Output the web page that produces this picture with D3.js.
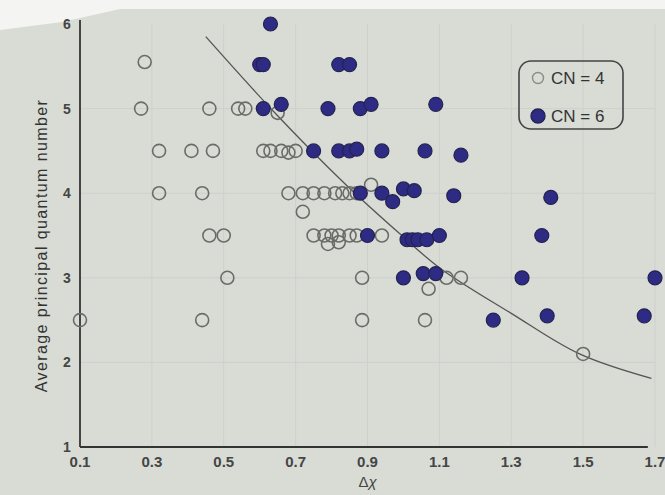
<!DOCTYPE html>
<html>
<head>
<meta charset="utf-8">
<script src="https://d3js.org/d3.v7.min.js"></script>
<style>
    body { margin: 0; background: #d8dcd5; }
    svg { display: block; }
</style>
</head>
<body>
<svg id="chart" width="665" height="495"></svg>
<script>
// tick values
const xTicks = [0.1, 0.3, 0.5, 0.7, 0.9, 1.1, 1.3, 1.5, 1.7];
const yTicks = [1, 2, 3, 4, 5, 6];

// CN = 4 (open circles), [delta chi, average n]
const cn4 = [
    [0.10, 2.5], [0.28, 5.55], [0.27, 5.0], [0.32, 4.5], [0.32, 4.0],
    [0.41, 4.5], [0.44, 4.0], [0.47, 4.5], [0.46, 5.0], [0.46, 3.5],
    [0.50, 3.5], [0.51, 3.0], [0.44, 2.5], [0.54, 5.0], [0.56, 5.0],
    [0.65, 4.95],
    [0.61, 4.5], [0.63, 4.5], [0.66, 4.5], [0.68, 4.48], [0.70, 4.5],
    [0.68, 4.0], [0.72, 4.0], [0.75, 4.0], [0.78, 4.0], [0.81, 4.0],
    [0.83, 4.0], [0.85, 4.0], [0.87, 4.0], [0.91, 4.1], [0.72, 3.78],
    [0.75, 3.5], [0.78, 3.5], [0.80, 3.5], [0.82, 3.5], [0.85, 3.5],
    [0.87, 3.5], [0.94, 3.5], [0.79, 3.4], [0.82, 3.42],
    [0.885, 3.0], [1.07, 2.87], [1.12, 3.0], [1.16, 3.0],
    [0.885, 2.5], [1.06, 2.5], [1.50, 2.1]
];

// CN = 6 (filled circles)
const cn6 = [
    [0.63, 6.0], [0.60, 5.52], [0.61, 5.52], [0.82, 5.52], [0.85, 5.52],
    [0.61, 5.0], [0.66, 5.05], [0.79, 5.0], [0.88, 5.0], [0.91, 5.05], [1.09, 5.05],
    [0.75, 4.5], [0.82, 4.5], [0.85, 4.5], [0.87, 4.52], [0.94, 4.5], [1.06, 4.5], [1.16, 4.45],
    [0.88, 4.0], [0.94, 4.0], [0.97, 3.9], [1.00, 4.05], [1.03, 4.03], [1.14, 3.97], [1.41, 3.95],
    [0.90, 3.5], [1.01, 3.45], [1.025, 3.45], [1.04, 3.45], [1.065, 3.45], [1.10, 3.5], [1.385, 3.5],
    [1.00, 3.0], [1.055, 3.05], [1.09, 3.05], [1.33, 3.0], [1.70, 3.0],
    [1.25, 2.5], [1.40, 2.55], [1.67, 2.55]
];

// dividing curve
const boundary = [
    [0.45, 5.85], [0.64, 4.96], [0.84, 4.1], [0.99, 3.52],
    [1.10, 3.12], [1.30, 2.58], [1.49, 2.1], [1.69, 1.81]
];

const svg = d3.select('#chart');

const x = d3.scaleLinear().domain([0.1, 1.7]).range([80, 655]);
const y = d3.scaleLinear().domain([1, 6]).range([447, 24]);

// photo edge at the top
svg.append('path')
    .attr('d', 'M0,0 H665 V9 H120 L62,22 L0,30 Z')
    .style('fill', '#f4f5f3');

// faint paper grid
svg.append('g').selectAll('line')
    .data(xTicks.slice(1))
    .join('line')
    .attr('x1', d => x(d)).attr('x2', d => x(d))
    .attr('y1', y(6)).attr('y2', y(1))
    .style('stroke', '#cdd1cb').style('stroke-width', 1);

svg.append('g').selectAll('line')
    .data(yTicks.slice(1, -1))
    .join('line')
    .attr('x1', x(0.1)).attr('x2', x(1.7))
    .attr('y1', d => y(d)).attr('y2', d => y(d))
    .style('stroke', '#cdd1cb').style('stroke-width', 1);

// axes drawn as plain lines, like the printed figure
svg.append('line')
    .attr('x1', x(0.1)).attr('x2', x(0.1))
    .attr('y1', y(6) - 4).attr('y2', y(1))
    .style('stroke', '#333').style('stroke-width', 1.8);

svg.append('line')
    .attr('x1', x(0.1)).attr('x2', x(1.68))
    .attr('y1', y(1)).attr('y2', y(1))
    .style('stroke', '#333').style('stroke-width', 1.8);

const tickFont = 'Liberation Sans, Arial, sans-serif';

svg.append('g').selectAll('text')
    .data(xTicks)
    .join('text')
    .attr('x', d => x(d))
    .attr('y', 467)
    .attr('text-anchor', 'middle')
    .style('font-family', tickFont)
    .style('font-size', '15px')
    .style('font-weight', 'bold')
    .style('fill', '#454545')
    .text(d => d3.format('.1f')(d));

svg.append('g').selectAll('text')
    .data(yTicks)
    .join('text')
    .attr('x', 67)
    .attr('y', d => y(d) + 5)
    .attr('text-anchor', 'middle')
    .style('font-family', tickFont)
    .style('font-size', '14px')
    .style('font-weight', 'bold')
    .style('fill', '#454545')
    .text(d => d);

// axis titles
svg.append('text')
    .attr('transform', `translate(47,${(y(1) + y(6)) / 2 + 10}) rotate(-90)`)
    .attr('text-anchor', 'middle')
    .style('font-family', tickFont)
    .style('font-size', '16px')
    .style('letter-spacing', '1.4px')
    .style('fill', '#333')
    .text('Average principal quantum number');

svg.append('text')
    .attr('x', x(0.9))
    .attr('y', 487)
    .attr('text-anchor', 'middle')
    .style('font-family', tickFont)
    .style('font-size', '15px')
    .style('fill', '#444')
    .html('Δ<tspan font-style="italic">χ</tspan>');

// boundary curve
svg.append('path')
    .datum(boundary)
    .attr('d', d3.line().x(d => x(d[0])).y(d => y(d[1])).curve(d3.curveCatmullRom))
    .style('fill', 'none')
    .style('stroke', '#555')
    .style('stroke-width', 1.3);

// open circles
svg.append('g').selectAll('circle')
    .data(cn4)
    .join('circle')
    .attr('cx', d => x(d[0]))
    .attr('cy', d => y(d[1]))
    .attr('r', 6.5)
    .style('fill', 'none')
    .style('stroke', '#6a6c68')
    .style('stroke-width', 1.6);

// filled circles
svg.append('g').selectAll('circle')
    .data(cn6)
    .join('circle')
    .attr('cx', d => x(d[0]))
    .attr('cy', d => y(d[1]))
    .attr('r', 7)
    .style('fill', '#2e2b84')
    .style('stroke', '#242350')
    .style('stroke-width', 1.2);

// legend
const legend = svg.append('g').attr('transform', 'translate(519,61)');
legend.append('rect')
    .attr('width', 104).attr('height', 68)
    .attr('rx', 12)
    .style('fill', 'none')
    .style('stroke', '#444')
    .style('stroke-width', 1.6);

const legendItems = [
    { label: 'CN = 4', filled: false },
    { label: 'CN = 6', filled: true }
];

legendItems.forEach((item, i) => {
    const g = legend.append('g').attr('transform', `translate(0,${17 + i * 38})`);
    g.append('circle')
        .attr('cx', 19).attr('cy', 0).attr('r', item.filled ? 7 : 5.5)
        .style('fill', item.filled ? '#2e2b84' : 'none')
        .style('stroke', item.filled ? '#242350' : '#8a8c88')
        .style('stroke-width', 1.4);
    g.append('text')
        .attr('x', 32).attr('y', 6)
        .style('font-family', tickFont)
        .style('font-size', '17px')
        .style('fill', '#333')
        .text(item.label);
});
</script>
</body>
</html>
